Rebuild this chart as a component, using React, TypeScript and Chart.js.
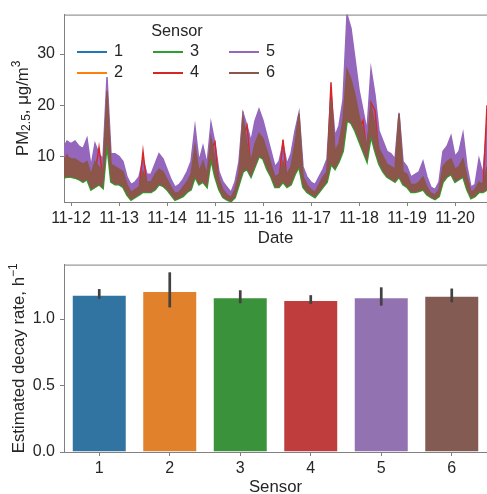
import React, { useEffect, useRef } from 'react';
import { Chart, registerables } from 'chart.js';

Chart.register(...registerables);

// ---------- shared ----------
const SENSORS = ['1', '2', '3', '4', '5', '6'];
const LINE_COLORS = ['#1f77b4', '#ff7f0e', '#2ca02c', '#d62728', '#9467bd', '#8c564b'];
const BAR_COLORS = ['#3274a1', '#e1812c', '#3a923a', '#c03d3e', '#9372b2', '#845b53'];

// ---------- top chart: PM2.5 time series (hours since 11-12 00:00, every 2 h) ----------
const START_HOUR = -4;
const STEP_HOURS = 2;
const DATE_TICK_HOURS = [0, 24, 48, 72, 96, 120, 144, 168, 192];
const DATE_TICK_LABELS = ['11-12', '11-13', '11-14', '11-15', '11-16', '11-17', '11-18', '11-19', '11-20'];
const PM_TICKS = [10, 20, 30];

const SENSOR1 = [
  7, 7.5, 7.5, 7, 6.8, 6.2, 6.8, 4.5, 5.8, 6, 5, 17, 6.5, 5.8,
  5.8, 5.2, 3.2, 2, 2.5, 3, 4.8, 3.8, 3.8, 4.8, 5.8, 5.2,
  4.2, 3, 1.9, 2.1, 2.6, 3.6, 4.8, 8.5, 5.5, 6.5, 5, 11,
  7.5, 4.2, 2.5, 1.8, 1.5, 2.6, 5.5, 12.5, 9.5, 7.2, 9.8, 12,
  11, 9, 7, 4.8, 5, 6.8, 5, 6, 9, 13, 4.8, 3.6,
  2.9, 2.4, 3.6, 4.8, 5.8, 14, 9, 10.5, 13.5, 21, 20, 18,
  15, 13, 10.5, 16.5, 13.5, 10, 8.5, 7, 6.5, 6, 12, 5.5,
  5, 3.6, 3.6, 4, 4.5, 3, 2.2, 1.9, 2.7, 6.2, 7.2, 7.8,
  6, 6.5, 7.5, 4.5, 2.2, 2.6, 3.8, 3.6, 5.5,
];
const SENSOR2 = [
  7.8, 8.2, 8, 7.8, 7.4, 7, 7.5, 5.2, 6.8, 6.5, 5.6, 19, 7, 6.4,
  6.3, 5.8, 3.6, 2.3, 2.9, 3.3, 5.5, 4.2, 4.2, 5.3, 6.2, 5.8,
  4.6, 3.4, 2.2, 2.4, 3.1, 4.1, 5.3, 9.5, 6, 7.3, 5.4, 11.8,
  8, 4.6, 2.9, 2.1, 1.7, 2.9, 6, 18.8, 10.5, 7.8, 10.5, 12.4,
  11.6, 9.4, 7.4, 5.1, 5.5, 7.5, 5.4, 6.5, 10, 15, 5.1, 3.9,
  3.1, 2.6, 3.9, 5.1, 6.1, 16, 9.5, 11, 14.5, 23, 21.5, 19,
  16, 13.8, 10.8, 17.5, 14, 10.2, 8.8, 7.5, 7, 6.4, 14, 5.9,
  5.4, 3.9, 3.9, 4.2, 5, 3.3, 2.5, 2.1, 2.9, 6.8, 7.8, 8.2,
  6.4, 7, 8, 5, 2.5, 3, 4.2, 3.9, 6,
];
const SENSOR3 = [
  5.8, 6, 6, 5.8, 5.5, 5, 5.5, 3.5, 4, 4.5, 3.8, 12.5, 5, 4.5,
  4.5, 4, 2.5, 1.5, 2, 2.5, 3, 3, 3, 3.5, 4.5, 4.2,
  3.5, 2.5, 1.5, 1.8, 2.2, 3, 3.5, 6, 4.5, 5, 4, 9.5,
  6, 3.5, 2, 1.5, 1.2, 2, 4.5, 7, 7.5, 6, 8, 10,
  9.5, 7.5, 6, 4, 4, 5, 4, 4.5, 6.5, 8, 4, 3,
  2.5, 2, 3, 4, 5, 8.5, 7.5, 9, 11, 17, 16.5, 15,
  13, 11, 9, 14, 11, 8.5, 7, 6, 5.5, 5, 6, 4.5,
  4, 3, 3, 3.2, 3.5, 2.5, 2, 1.6, 2.2, 5, 6, 6.5,
  5, 5.5, 6, 3.5, 1.8, 2.2, 3, 3, 3.5,
];
const SENSOR4 = [
  8, 10.2, 8, 7.5, 7, 7, 7.5, 5, 6.5, 11.8, 5.5, 18, 7, 6,
  6, 5.5, 3.5, 2.2, 2.8, 3.2, 11, 4, 4, 5, 6, 5.5,
  4.5, 3.2, 2.2, 2.4, 3, 4, 5, 9, 5.8, 7, 5.2, 11.5,
  12.8, 4.5, 2.8, 2, 1.6, 2.8, 5.8, 14, 16, 7.5, 10, 12,
  11.5, 9, 7, 5, 5.2, 13.3, 5.2, 6, 9.5, 14, 5, 3.8,
  3, 2.5, 3.8, 5, 6, 24.5, 9, 10.5, 14, 22, 21, 18.5,
  15.5, 17, 10.5, 20.5, 19, 10, 8.5, 7.2, 6.8, 6.2, 13, 5.8,
  5.2, 3.8, 3.8, 4, 4.8, 3.2, 2.4, 2, 2.8, 6.5, 7.5, 8,
  6.2, 6.8, 7.8, 4.8, 2.4, 2.8, 4, 3.8, 20,
];
const SENSOR5 = [
  11.5, 13, 12.5, 13, 12, 11.5, 13.5, 8, 12.5, 10.5, 9.5, 25.5, 10.5, 10.5,
  10, 9, 6, 4.5, 5, 6, 9.5, 6.5, 6.5, 8.5, 10.5, 9.5,
  7.5, 5.5, 4, 4.5, 5.5, 7, 9, 15.8, 9, 12, 8.5, 16.5,
  12.5, 7, 5, 4, 3, 5, 9, 18.5, 16, 13, 17, 19.2,
  17, 14, 11, 8, 9, 12.5, 8.5, 10.5, 15, 18.5, 8, 6,
  5, 4.5, 6, 7.5, 9.5, 22.5, 14, 16, 21, 37.7, 35, 29,
  23, 19, 15, 27, 22, 15, 13, 11, 10.5, 9.5, 18.5, 9,
  8, 6, 6.5, 7, 9, 6, 4, 3.5, 5, 11, 12, 14,
  10, 11, 14.5, 8, 4, 4.5, 9.5, 6.5, 16.5,
];
const SENSOR6 = [
  9.5, 10, 9.5, 9.5, 9, 8.5, 9, 6.5, 9, 8, 7, 22.8, 8.5, 8,
  7.5, 7, 4.5, 3, 3.5, 4, 7, 5, 5, 6.5, 7.5, 7,
  5.5, 4, 2.8, 3, 4, 5, 6.5, 12, 7, 9, 6.5, 13.5,
  9.5, 5.5, 3.5, 2.5, 2, 3.5, 7, 17.5, 12.5, 9, 12.5, 14.5,
  13.5, 11, 8.5, 6, 6.5, 9, 6.5, 8, 12.5, 18.3, 6, 4.5,
  3.5, 3, 4.5, 6, 7, 21, 11, 12.5, 17, 27, 25, 22,
  18, 15, 12, 20, 16, 11.5, 10, 8.5, 8, 7.5, 18.3, 7,
  6.5, 4.5, 4.5, 5, 6, 4, 2.8, 2.5, 3.5, 8, 9, 9.5,
  7.5, 8, 9.5, 6, 3, 3.5, 5, 4.5, 8,
];
const PM_SERIES = [SENSOR1, SENSOR2, SENSOR3, SENSOR4, SENSOR5, SENSOR6];

// ---------- bottom chart: decay rate ----------
const DECAY_MEAN = [1.183, 1.212, 1.165, 1.143, 1.165, 1.175];
const DECAY_LOW = [1.151, 1.088, 1.119, 1.113, 1.101, 1.126];
const DECAY_HIGH = [1.226, 1.352, 1.217, 1.180, 1.239, 1.230];
const DECAY_TICKS = [0, 0.5, 1.0];
const DECAY_TICK_LABELS = ['0.0', '0.5', '1.0'];

// ---------- styling ----------
const FONT = '"Liberation Sans", Arial, sans-serif';
const TEXT = '#262626';
const SPINE = '#808080';
const W = 487;
const LABEL_SIZE = 16.8;
const SMALL_SIZE = 12;

function drawRich(ctx: CanvasRenderingContext2D, pieces: { t: string; s: number; dy: number }[], cx: number, cy: number, rotate: boolean) {
  ctx.save();
  ctx.translate(cx, cy);
  if (rotate) ctx.rotate(-Math.PI / 2);
  let total = 0;
  for (const p of pieces) {
    ctx.font = `${p.s}px ${FONT}`;
    total += ctx.measureText(p.t).width;
  }
  let x = -total / 2;
  ctx.fillStyle = TEXT;
  ctx.textBaseline = 'middle';
  ctx.textAlign = 'left';
  for (const p of pieces) {
    ctx.font = `${p.s}px ${FONT}`;
    ctx.fillText(p.t, x, p.dy);
    x += ctx.measureText(p.t).width;
  }
  ctx.restore();
}

function topSpine(chart: any) {
  const { ctx, chartArea } = chart;
  ctx.save();
  ctx.strokeStyle = SPINE;
  ctx.lineWidth = 1;
  ctx.beginPath();
  ctx.moveTo(chartArea.left, chartArea.top + 0.5);
  ctx.lineTo(chartArea.right, chartArea.top + 0.5);
  ctx.stroke();
  ctx.restore();
}

const pmDecor = {
  id: 'pmDecor',
  afterDatasetsDraw(chart: any) {
    const ctx = chart.ctx as CanvasRenderingContext2D;
    ctx.save();
    ctx.font = `16.3px ${FONT}`;
    ctx.fillStyle = TEXT;
    ctx.textBaseline = 'middle';
    ctx.textAlign = 'center';
    ctx.fillText('Sensor', 177, 32);
    const colX = [77, 153, 229];
    const rowY = [52, 73];
    for (let c = 0; c < 3; c++) {
      for (let r = 0; r < 2; r++) {
        const i = c * 2 + r;
        ctx.strokeStyle = LINE_COLORS[i];
        ctx.lineWidth = 2;
        ctx.beginPath();
        ctx.moveTo(colX[c], rowY[r]);
        ctx.lineTo(colX[c] + 30, rowY[r]);
        ctx.stroke();
        ctx.textAlign = 'left';
        ctx.fillStyle = TEXT;
        ctx.fillText(SENSORS[i], colX[c] + 37, rowY[r]);
      }
    }
    ctx.restore();
  },
  afterDraw(chart: any) {
    topSpine(chart);
    const ctx = chart.ctx as CanvasRenderingContext2D;
    drawRich(ctx, [
      { t: 'PM', s: LABEL_SIZE, dy: 0 },
      { t: '2.5', s: SMALL_SIZE, dy: 4 },
      { t: ', \u03bcg/m', s: LABEL_SIZE, dy: 0 },
      { t: '3', s: SMALL_SIZE, dy: -6 },
    ], 23, (chart.chartArea.top + chart.chartArea.bottom) / 2, true);
    drawRich(ctx, [{ t: 'Date', s: LABEL_SIZE, dy: 0 }], (chart.chartArea.left + chart.chartArea.right) / 2, 238, false);
  },
};

const decayDecor = {
  id: 'decayDecor',
  afterDatasetsDraw(chart: any) {
    const ctx = chart.ctx as CanvasRenderingContext2D;
    const meta = chart.getDatasetMeta(0);
    const y = chart.scales.y;
    ctx.save();
    ctx.strokeStyle = '#424242';
    ctx.lineWidth = 2.7;
    ctx.lineCap = 'butt';
    meta.data.forEach((bar: any, i: number) => {
      ctx.beginPath();
      ctx.moveTo(bar.x, y.getPixelForValue(DECAY_LOW[i]));
      ctx.lineTo(bar.x, y.getPixelForValue(DECAY_HIGH[i]));
      ctx.stroke();
    });
    ctx.restore();
  },
  afterDraw(chart: any) {
    topSpine(chart);
    const ctx = chart.ctx as CanvasRenderingContext2D;
    drawRich(ctx, [
      { t: 'Estimated decay rate, h', s: LABEL_SIZE, dy: 0 },
      { t: '\u22121', s: SMALL_SIZE, dy: -6 },
    ], 19.5, (chart.chartArea.top + chart.chartArea.bottom) / 2, true);
    drawRich(ctx, [{ t: 'Sensor', s: LABEL_SIZE, dy: 0 }], (chart.chartArea.left + chart.chartArea.right) / 2, 237, false);
  },
};

function axisCommon() {
  return {
    grid: { display: true, drawOnChartArea: false, drawTicks: true, tickLength: 4, tickColor: SPINE, tickWidth: 1 },
    border: { display: true, color: SPINE, width: 1 },
  };
}

export default function App() {
  const topRef = useRef<HTMLCanvasElement>(null);
  const botRef = useRef<HTMLCanvasElement>(null);

  useEffect(() => {
    const hours = SENSOR1.map((_, i) => START_HOUR + i * STEP_HOURS);
    const orders = [7, 6, 5, 3, 4, 2];
    const datasets: any[] = PM_SERIES.map((series, i) => ({
      label: SENSORS[i],
      data: series.map((v, j) => ({ x: hours[j], y: v })),
      borderColor: LINE_COLORS[i],
      backgroundColor: LINE_COLORS[i],
      borderWidth: 1.5,
      pointRadius: 0,
      tension: 0,
      order: orders[i],
      fill: false,
    }));
    datasets[4].fill = { target: 5, above: LINE_COLORS[4], below: LINE_COLORS[4] };
    datasets[5].fill = { target: 2, above: LINE_COLORS[5], below: LINE_COLORS[5] };
    datasets[2].borderWidth = 2;

    const tickFont = { family: FONT, size: 16 };

    const top = new Chart(topRef.current!, {
      type: 'line',
      data: { datasets },
      plugins: [pmDecor],
      options: {
        animation: false,
        responsive: false,
        devicePixelRatio: 1,
        layout: { padding: { top: 12, left: 0, right: 0, bottom: 0 } },
        plugins: { legend: { display: false }, tooltip: { enabled: false } },
        scales: {
          x: {
            type: 'linear',
            min: -3.5,
            max: 208,
            ...axisCommon(),
            afterBuildTicks: (s: any) => { s.ticks = DATE_TICK_HOURS.map((v) => ({ value: v })); },
            afterFit: (s: any) => { s.height = 48; },
            ticks: {
              color: TEXT, font: tickFont, padding: 3, maxRotation: 0, autoSkip: false,
              callback: (v: any) => DATE_TICK_LABELS[DATE_TICK_HOURS.indexOf(Number(v))] ?? '',
            },
          },
          y: {
            type: 'linear',
            min: 1.1,
            max: 37.7,
            ...axisCommon(),
            afterBuildTicks: (s: any) => { s.ticks = PM_TICKS.map((v) => ({ value: v })); },
            afterFit: (s: any) => { s.width = 64; },
            ticks: { color: TEXT, font: tickFont, padding: 5, callback: (v: any) => String(v) },
          },
        },
      } as any,
    });

    const bot = new Chart(botRef.current!, {
      type: 'bar',
      data: {
        labels: SENSORS,
        datasets: [{
          label: 'decay',
          data: DECAY_MEAN,
          backgroundColor: BAR_COLORS,
          borderColor: 'rgba(255,255,255,0.4)',
          borderWidth: 1,
          barPercentage: 0.78,
          categoryPercentage: 1,
        }],
      },
      plugins: [decayDecor],
      options: {
        animation: false,
        responsive: false,
        devicePixelRatio: 1,
        layout: { padding: { top: 12, left: 0, right: 0, bottom: 0 } },
        plugins: { legend: { display: false }, tooltip: { enabled: false } },
        scales: {
          x: {
            type: 'category',
            offset: true,
            ...axisCommon(),
            grid: { ...axisCommon().grid, offset: false },
            afterFit: (s: any) => { s.height = 42; },
            ticks: { color: TEXT, font: tickFont, padding: 3, maxRotation: 0 },
          },
          y: {
            type: 'linear',
            min: 0,
            max: 1.41,
            ...axisCommon(),
            afterBuildTicks: (s: any) => { s.ticks = DECAY_TICKS.map((v) => ({ value: v })); },
            afterFit: (s: any) => { s.width = 64; },
            ticks: {
              color: TEXT, font: tickFont, padding: 5,
              callback: (v: any) => DECAY_TICK_LABELS[DECAY_TICKS.indexOf(Number(v))] ?? '',
            },
          },
        },
      } as any,
    });

    return () => { top.destroy(); bot.destroy(); };
  }, []);

  return (
    <div style={{ position: 'absolute', left: 0, top: 0, width: W, height: 494, background: '#fff', overflow: 'hidden' }}>
      <canvas ref={topRef} width={W} height={250} style={{ display: 'block' }} />
      <canvas ref={botRef} width={W} height={244} style={{ display: 'block' }} />
    </div>
  );
}
